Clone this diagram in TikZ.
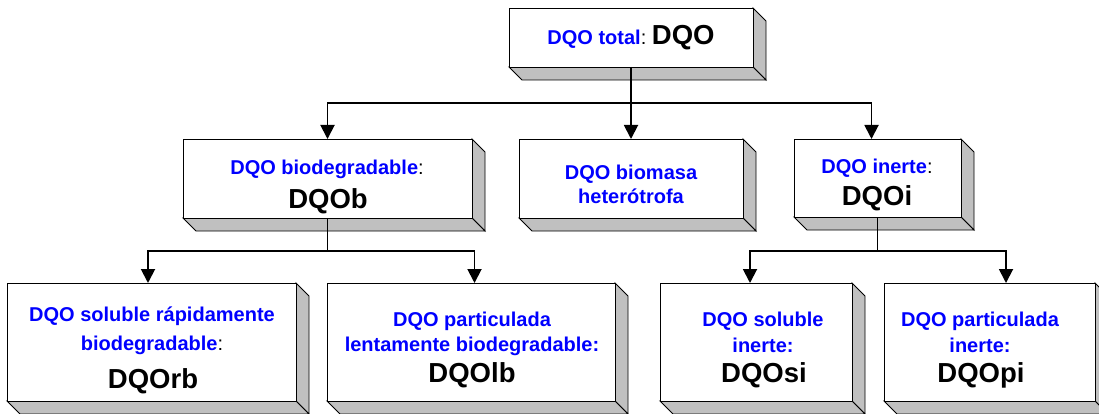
\documentclass[tikz,border=0pt]{standalone}
\usepackage{fontspec}
\setmainfont{Liberation Sans}
\usetikzlibrary{arrows.meta,fit}
\definecolor{shade}{RGB}{192,192,192}
\definecolor{lblue}{RGB}{0,0,255}
\newcommand{\bl}[1]{{\color{lblue}#1}}
\newcommand{\bigtxt}{\fontsize{27.5}{30}\selectfont}
\newcommand{\cln}{{\mdseries:}}
\tikzset{
  face/.style={draw=black, line width=0.9pt, fill=white, inner sep=0pt, outer sep=0pt},
  sideface/.style={draw=black, line width=0.9pt, fill=shade, line join=miter},
  conn/.style={line width=1.9pt},
  arr/.style={conn, -{Triangle[length=14pt,width=14pt]}},
  sm/.style={font=\fontsize{20}{23}\selectfont\bfseries, anchor=base, inner sep=0pt},
  bg/.style={font=\bigtxt\bfseries, anchor=base, inner sep=0pt},
}
% name, x1, y1, x2, y2
\newcommand{\boxthreed}[5]{%
  \path[sideface] (#4,#3) -- (#4+13,#3+13) -- (#4+13,#5+13) -- (#4,#5) -- cycle;
  \path[sideface] (#2,#5) -- (#4,#5) -- (#4+13,#5+13) -- (#2+13,#5+13) -- cycle;
  \node[face, fit={(#2,#3) (#4,#5)}] (#1) {};
}
\begin{document}
\begin{tikzpicture}[x=1pt,y=-1pt]
\useasboundingbox (0,0) rectangle (1099,414);
\clip (0,0) rectangle (1099,414);

% boxes
\boxthreed{T}{509}{8}{753}{67}
\boxthreed{B}{183}{139}{472}{218}
\boxthreed{M}{519}{139}{743}{218}
\boxthreed{I}{794}{139}{961}{217}
\boxthreed{R}{7}{283}{296}{401}
\boxthreed{L}{327}{283}{615}{401}
\boxthreed{S}{660}{283}{852}{401}
\boxthreed{P}{884}{283}{1095}{401}

% texts
\node[sm] (tT) at (631,45) {\bl{DQO total}\cln\ {\bigtxt DQO}};

\node[sm] (tB1) at (327,175) {\bl{DQO biodegradable}\cln};
\node[bg] (tB2) at (328,208) {DQOb};

\node[sm] (tM1) at (631,179) {\bl{DQO biomasa}};
\node[sm] (tM2) at (631,203) {\bl{heterótrofa}};

\node[sm] (tI1) at (877,174) {\bl{DQO inerte}\cln};
\node[bg] (tI2) at (877,205) {DQOi};

\node[sm] (tR1) at (152,321) {\bl{DQO soluble rápidamente}};
\node[sm] (tR2) at (152,350) {\bl{biodegradable}\cln};
\node[bg] (tR3) at (153,388) {DQOrb};

\node[sm] (tL1) at (472,326) {\bl{DQO particulada}};
\node[sm] (tL2) at (472,351) {\bl{lentamente biodegradable:}};
\node[bg] (tL3) at (472,382) {DQOlb};

\node[sm] (tS1) at (763,326) {\bl{DQO soluble}};
\node[sm] (tS2) at (763,352) {\bl{inerte:}};
\node[bg] (tS3) at (764,382) {DQOsi};

\node[sm] (tP1) at (980,326) {\bl{DQO particulada}};
\node[sm] (tP2) at (980,352) {\bl{inerte:}};
\node[bg] (tP3) at (981,382) {DQOpi};

% connectors
\path (T.south) ++(0,36) coordinate (j1);
\draw[conn] (T.south) -- (j1);
\draw[arr] (j1) -| (B.north);
\draw[arr] (j1) -- (M.north);
\draw[arr] (j1) -| ([xshift=-6pt]I.north);

\path (B.south) ++(0,33) coordinate (j2);
\draw[conn] (B.south) -- (j2);
\draw[arr] (j2) -| ([xshift=-3.5pt]R.north);
\draw[arr] (j2) -| ([xshift=3.5pt]L.north);

\path (I.south) ++(0,34) coordinate (j3);
\draw[conn] (I.south) -- (j3);
\draw[arr] (j3) -| ([xshift=-6pt]S.north);
\draw[arr] (j3) -| ([xshift=16.5pt]P.north);
\end{tikzpicture}
\end{document}
